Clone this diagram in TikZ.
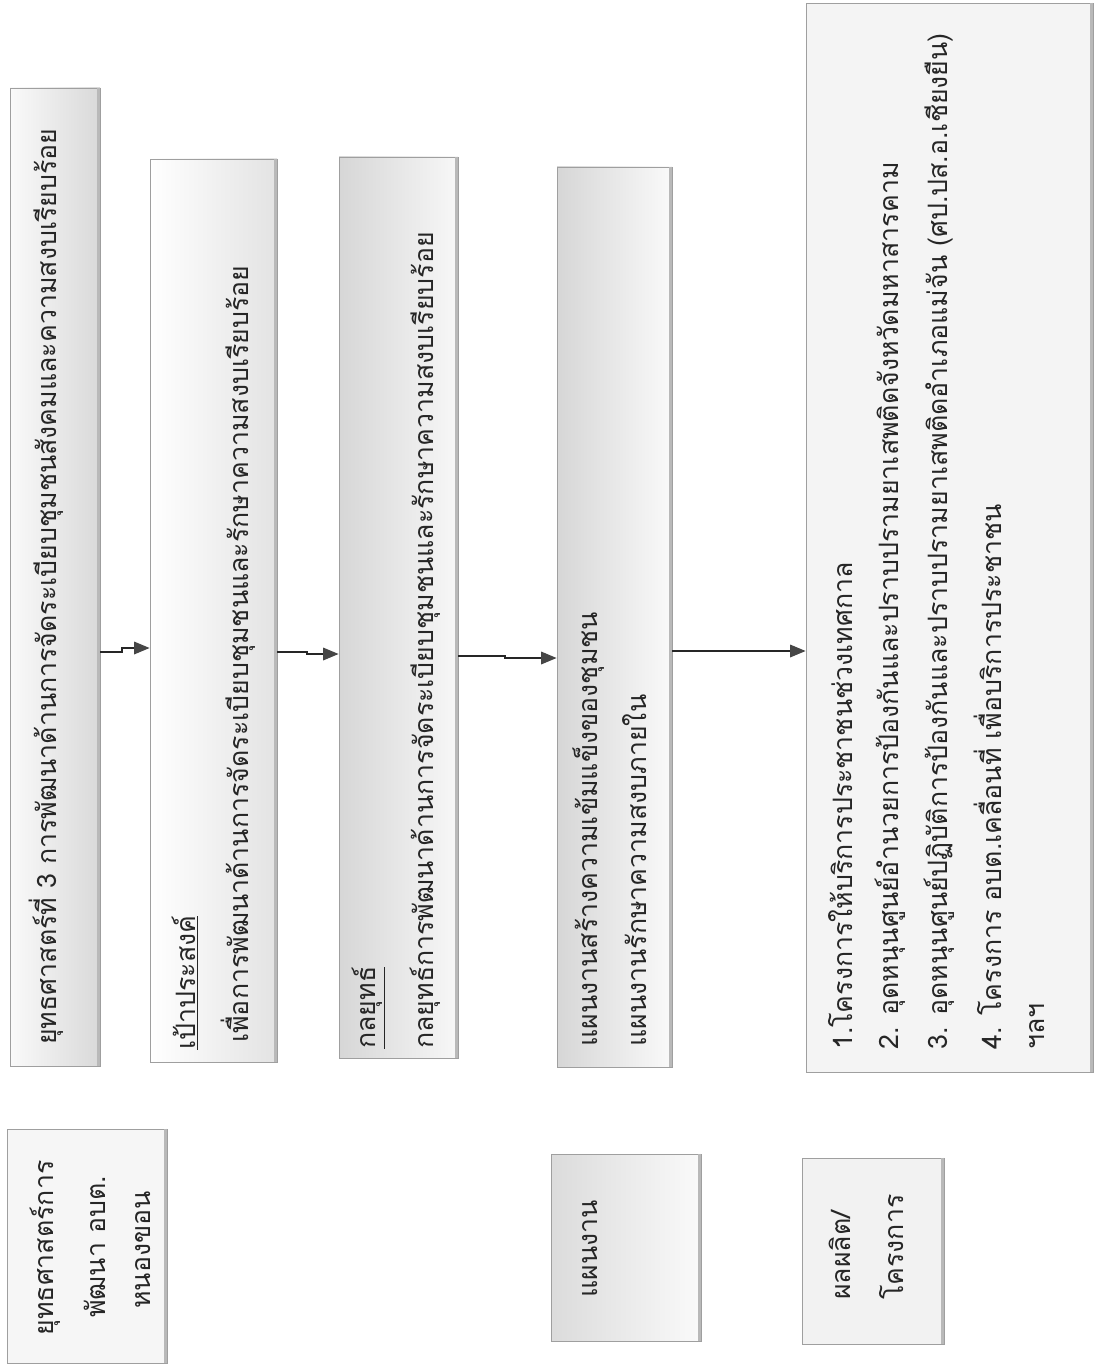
\documentclass[tikz,border=0pt]{standalone}
\usepackage{fontspec}
\newfontfamily\thaifont[Script=Thai]{Loma}
\usetikzlibrary{arrows.meta,fit}

\tikzset{
  panel/.style={draw=gray!75, line width=0.6pt, inner sep=0pt},
  shade/.style={draw=gray!55, line width=2.4pt},
  txt/.style={rotate=90, anchor=west, inner sep=0pt, text=black!85,
    font=\thaifont\fontsize{19}{22}\selectfont},
  flow/.style={draw=black!85, line width=0.9pt,
    -{Triangle[length=11pt,width=9pt,color=gray!55!black,fill=gray!55!black]}}
}

\begin{document}
\begin{tikzpicture}[x=0.025cm,y=-0.025cm]
        \useasboundingbox (0,0) rectangle (1097,1366);
        % main column of boxes
        \node[panel, left color=gray!4, right color=gray!30, fit={(10,88) (100,1066)}] (strat) {};
        \node[panel, left color=white, right color=gray!22, fit={(150,159) (277,1062)}] (goal) {};
        \node[panel, left color=gray!32, right color=gray!6, fit={(339,157) (458,1058)}] (tactic) {};
        \node[panel, left color=gray!32, right color=gray!4, fit={(557,167) (672,1067)}] (plan) {};
        \node[panel, fill=gray!9, fit={(806,3) (1093,1072)}] (proj) {};
        % boxes on the side
        \node[panel, fill=gray!7, fit={(7,1129) (167,1363)}] (headstrat) {};
        \node[panel, left color=gray!28, right color=gray!4, fit={(551,1154) (701,1341)}] (headplan) {};
        \node[panel, fill=gray!10, fit={(802,1158) (944,1344)}] (headproj) {};
        \foreach \b in {strat,goal,tactic,plan,proj,headstrat,headplan,headproj}{
            \draw[shade] ([xshift=-1.2pt]\b.north east) -- ([xshift=-1.2pt]\b.south east);
        }

        \node[txt] (stratline) at (46,1045) {ยุทธศาสตร์ที่ 3 การพัฒนาด้านการจัดระเบียบชุมชนสังคมและความสงบเรียบร้อย};
        \node[txt] (goalhead) at (185,1050) {\underline{เป้าประสงค์}};
        \node[txt] (goalline) at (238,1043) {เพื่อการพัฒนาด้านการจัดระเบียบชุมชนและรักษาความสงบเรียบร้อย};
        \node[txt] (tactichead) at (369,1049) {\underline{กลยุทธ์}};
        \node[txt] (tacticline) at (425,1049) {กลยุทธ์การพัฒนาด้านการจัดระเบียบชุมชนและรักษาความสงบเรียบร้อย};
        \node[txt] (planone) at (589,1047) {แผนงานสร้างความเข้มแข็งของชุมชน};
        \node[txt] (plantwo) at (635,1047) {แผนงานรักษาความสงบภายใน};
        \foreach \n/\x/\t in {1/841/1.โครงการให้บริการประชาชนช่วงเทศกาล,
            2/890/2. อุดหนุนศูนย์อำนวยการป้องกันและปราบปรามยาเสพติดจังหวัดมหาสารคาม,
            3/939/3. อุดหนุนศูนย์ปฏิบัติการป้องกันและปราบปรามยาเสพติดอำเภอแม่จัน (ศป.ปส.อ.เชียงยืน),
            4/988/4. โครงการ อบต.เคลื่อนที่ เพื่อบริการประชาชน,
            5/1037/ฯลฯ}{
            \node[txt] (proj\n) at (\x,1050) {\t};
        }

        \node[txt, anchor=center] (hs1) at (45,1248) {ยุทธศาสตร์การ};
        \node[txt, anchor=center] (hs2) at (95,1247) {พัฒนา อบต.};
        \node[txt, anchor=center] (hs3) at (143,1250) {หนองขอน};
        \node[txt, anchor=center] (hp) at (590,1249) {แผนงาน};
        \node[txt] (hj1) at (840,1300) {ผลผลิต/};
        \node[txt] (hj2) at (892,1300) {โครงการ};

        % connectors
        \draw[flow] (strat.east |- 0,652) -- (122,652) -- (122,648) -- (goal.west |- 0,648);
        \draw[flow] (goal.east |- 0,652) -- (307,652) -- (307,654) -- (tactic.west |- 0,654);
        \draw[flow] (tactic.east |- 0,656) -- (505,656) -- (505,658) -- (plan.west |- 0,658);
        \draw[flow] (plan.east |- 0,651) -- (proj.west |- 0,651);
\end{tikzpicture}
\end{document}
